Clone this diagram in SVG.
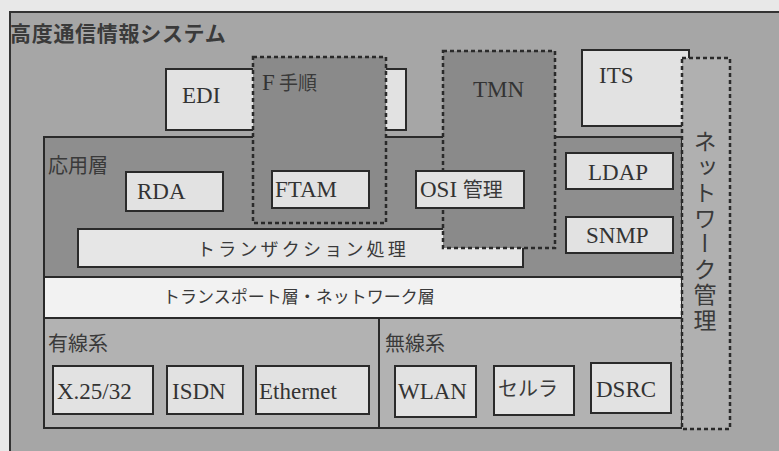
<svg xmlns="http://www.w3.org/2000/svg" width="779" height="451" viewBox="0 0 779 451">
<style>
.box{stroke:#2a2a2a;stroke-width:2}
.light{fill:#e2e2e2}
.dash{fill:#8a8a8a;stroke:#2a2a2a;stroke-width:2.5;stroke-dasharray:4 3}
.jp{font-family:"Noto Sans CJK JP","Noto Sans",sans-serif;fill:#3a3a3a}
.en{font-family:"Liberation Serif",serif;fill:#333;font-size:23px}
</style>
<rect x="0" y="0" width="779" height="451" fill="#e8e8e8"/>
<g id="system">
<rect x="10" y="12" width="780" height="450" fill="#a6a6a6" stroke="#333" stroke-width="2"/>
<text class="jp" x="10" y="41" font-size="21" font-weight="bold" letter-spacing="0.7">高度通信情報システム</text>
</g>
<g id="edi"><rect class="box light" x="166" y="69" width="240" height="61"/><text class="en" x="182" y="103">EDI</text></g>
<g id="its"><rect class="box light" x="582" y="50" width="107" height="76"/><text class="en" x="599" y="83">ITS</text></g>
<g id="app"><rect class="box" x="44" y="137" width="638" height="140" fill="#8e8e8e"/><text class="jp" x="48" y="173" font-size="20">応用層</text></g>
<g id="rda"><rect class="box light" x="126" y="172" width="97" height="39"/><text class="en" x="137" y="199">RDA</text></g>
<g id="ldap"><rect class="box light" x="566" y="153" width="107" height="36"/><text class="en" x="588" y="180">LDAP</text></g>
<g id="snmp"><rect class="box light" x="566" y="217" width="107" height="36"/><text class="en" x="586" y="243">SNMP</text></g>
<g id="transaction"><rect class="box" x="78" y="229" width="445" height="38" fill="#e6e6e6"/><text class="jp" x="197" y="256" font-size="18" letter-spacing="3.2" fill="#555">トランザクション処理</text></g>
<g id="ftejun"><rect class="dash" x="253" y="57" width="133" height="166"/><text class="jp" x="262" y="90" font-size="19"><tspan class="en" font-size="21">F</tspan> 手順</text></g>
<g id="ftam"><rect class="box light" x="272" y="171" width="97" height="37"/><text class="en" x="275" y="197">FTAM</text></g>
<g id="tmn"><rect class="dash" x="443" y="51" width="112" height="197"/><text class="en" x="473" y="97">TMN</text></g>
<g id="osi"><rect class="box light" x="416" y="171" width="108" height="37"/><text class="en" x="420" y="197">OSI <tspan class="jp" font-size="20">管理</tspan></text></g>
<g id="transport"><rect class="box" x="44" y="277" width="638" height="41" fill="#f2f2f2"/><text class="jp" x="163" y="303" font-size="17" fill="#555">トランスポート層・ネットワーク層</text></g>
<g id="wired"><rect class="box" x="44" y="318" width="335" height="110" fill="#b2b2b2"/><text class="jp" x="48" y="351" font-size="20">有線系</text></g>
<g id="x25"><rect class="box light" x="53" y="366" width="100" height="48"/><text class="en" x="57" y="399">X.25/32</text></g>
<g id="isdn"><rect class="box light" x="167" y="366" width="76" height="48"/><text class="en" x="172" y="399">ISDN</text></g>
<g id="ethernet"><rect class="box light" x="256" y="366" width="113" height="48"/><text class="en" x="259" y="399">Ethernet</text></g>
<g id="wireless"><rect class="box" x="379" y="318" width="303" height="110" fill="#b2b2b2"/><text class="jp" x="385" y="351" font-size="20">無線系</text></g>
<g id="wlan"><rect class="box light" x="395" y="366" width="81" height="51"/><text class="en" x="398" y="399">WLAN</text></g>
<g id="cellular"><rect class="box light" x="494" y="366" width="80" height="49"/><text class="jp" x="498" y="396" font-size="20">セルラ</text></g>
<g id="dsrc"><rect class="box light" x="591" y="363" width="80" height="50"/><text class="en" x="596" y="397">DSRC</text></g>
<g id="netmgmt"><rect class="dash" x="682" y="58" width="48" height="371" style="fill:#b0b0b0"/><text class="jp" x="705" y="130" font-size="23" letter-spacing="2.5" style="writing-mode:vertical-rl">ネットワーク管理</text></g>
<g id="connectors"></g>
</svg>
